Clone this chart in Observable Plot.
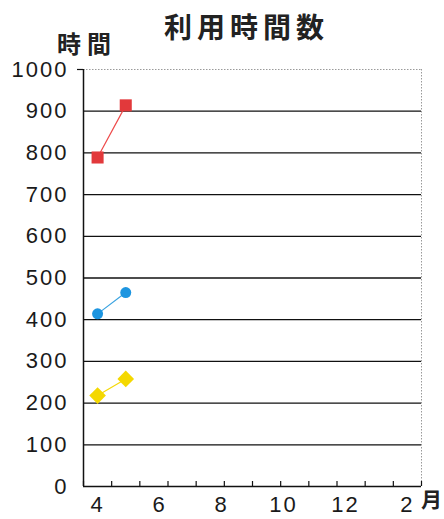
<!DOCTYPE html>
<html>
<head>
<meta charset="utf-8">
<script src="https://cdn.jsdelivr.net/npm/d3@7"></script>
<script src="https://cdn.jsdelivr.net/npm/@observablehq/plot@0.6"></script>
<style>
  body { margin: 0; background: #fff; }
  #wrap { position: relative; width: 444px; height: 519px; overflow: hidden; }
  .lbl { position: absolute; font-family: "Noto Sans CJK JP", sans-serif; font-weight: bold; color: #222; white-space: nowrap; line-height: 1; }
</style>
</head>
<body>
<div id="wrap">
  <div class="lbl" id="title" style="left:164px; top:12px; font-size:28px; letter-spacing:5px;">利用時間数</div>
  <div class="lbl" id="ylab" style="left:57px; top:31px; font-size:24px; letter-spacing:6px;">時間</div>
  <div class="lbl" id="xunit" style="left:421px; top:488px; font-size:21px;">月</div>
</div>
<script>
// fiscal-year month categories (April to March)
const months = [4, 5, 6, 7, 8, 9, 10, 11, 12, 1, 2, 3];
const tickLabels = ["4", "6", "8", "10", "12", "2"];
const yTicks = [0, 100, 200, 300, 400, 500, 600, 700, 800, 900, 1000];
const gridValues = [100, 200, 300, 400, 500, 600, 700, 800, 900];

const seriesMonths = [4, 5];
const redValues = [789, 914];
const blueValues = [414, 465];
const yellowValues = [218, 258];

const idx = m => months.indexOf(m) + 0.5;
const mk = vals => seriesMonths.map((m, i) => ({x: idx(m), y: vals[i]}));
const red = mk(redValues), blue = mk(blueValues), yellow = mk(yellowValues);

// Excel-style spread of labels from first to last category centre
const n = months.length;
const labelData = tickLabels.map((t, k) => ({t, x: 0.5 + k * (n - 1) / (tickLabels.length - 1)}));

const numStyle = {fontFamily: "Liberation Sans, Arial, sans-serif", fontSize: 22, fill: "#1a1a1a"};

const chart = Plot.plot({
  width: 444,
  height: 519,
  marginLeft: 83,
  marginRight: 23,
  marginTop: 69,
  marginBottom: 33,
  style: {fontFamily: "Liberation Sans, sans-serif", background: "transparent", overflow: "visible", letterSpacing: "2px"},
  x: {domain: [0, n], axis: null},
  y: {domain: [0, 1000], axis: null},
  marks: [
    Plot.ruleY(gridValues, {stroke: "#111", strokeWidth: 1.3}),
    Plot.ruleY([1000], {stroke: "#9a9a9a", strokeWidth: 1, strokeDasharray: "1.5,1.5"}),
    Plot.ruleX([n], {stroke: "#9a9a9a", strokeWidth: 1, strokeDasharray: "1.5,1.5"}),
    Plot.ruleX([0], {stroke: "#111", strokeWidth: 1.5}),
    Plot.ruleY([0], {stroke: "#111", strokeWidth: 1.5}),
    Plot.axisX({ticks: d3.range(0, n + 1), tickSize: -5, tickFormat: () => "", label: null, stroke: "#111", strokeWidth: 1.2}),
    Plot.axisY({ticks: [1000], tickSize: 6, tickFormat: () => "", label: null, stroke: "#111", strokeWidth: 1.2}),
    Plot.axisY({ticks: yTicks, tickSize: 0, tickPadding: 15, label: null, ...numStyle, tickFormat: d => String(d)}),
    Plot.text(labelData, {x: "x", text: "t", frameAnchor: "bottom", dy: 25, ...numStyle}),
    Plot.line(red, {x: "x", y: "y", stroke: "#ee4b4b", strokeWidth: 1.2}),
    Plot.line(blue, {x: "x", y: "y", stroke: "#3aa3e0", strokeWidth: 1.2}),
    Plot.line(yellow, {x: "x", y: "y", stroke: "#f5d90a", strokeWidth: 1.2}),
    Plot.dot(red, {x: "x", y: "y", symbol: "square", r: 6.8, fill: "#e2393b"}),
    Plot.dot(blue, {x: "x", y: "y", symbol: "circle", r: 5.5, fill: "#1d95e0"}),
    Plot.dot(yellow, {x: "x", y: "y", symbol: "diamond2", r: 7.5, fill: "#f4d800"})
  ]
});
chart.style.position = "absolute";
chart.style.left = "0";
chart.style.top = "0";
document.getElementById("wrap").prepend(chart);
</script>
</body>
</html>
